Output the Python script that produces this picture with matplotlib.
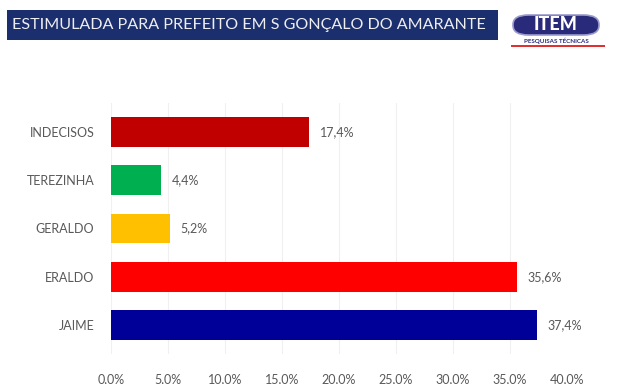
import matplotlib
matplotlib.use('Agg')
import matplotlib.pyplot as plt
from matplotlib.patches import FancyBboxPatch, Rectangle

candidates = ['JAIME', 'ERALDO', 'GERALDO', 'TEREZINHA', 'INDECISOS']
values = [37.4, 35.6, 5.2, 4.4, 17.4]
colors = ['#000099', '#ff0000', '#ffc000', '#00b050', '#c00000']
xticks = [0, 5, 10, 15, 20, 25, 30, 35, 40]

plt.rcParams['font.family'] = ['Lato', 'DejaVu Sans']

fig = plt.figure(figsize=(6.17, 3.84), dpi=100)
ax = fig.add_axes([0.18, 0.078, 0.739, 0.654])

ypos = list(range(len(candidates)))
ax.barh(ypos, values, height=0.62, color=colors, zorder=3)
for y, v in zip(ypos, values):
    ax.text(v + 0.9, y, f'{v:.1f}%'.replace('.', ','), va='center', ha='left',
            fontsize=9, color='#595959')

ax.set_xlim(0, 40)
ax.set_ylim(-0.6, 4.6)
ax.set_yticks(ypos)
ax.set_yticklabels(candidates)
ax.set_xticks(xticks)
ax.set_xticklabels([f'{t:.1f}%'.replace('.', ',') for t in xticks])
ax.tick_params(axis='both', length=0, labelsize=9, colors='#595959')
ax.tick_params(axis='x', pad=14)
ax.tick_params(axis='y', pad=12)
ax.grid(axis='x', color='#f0f0f0', linewidth=0.8, zorder=0)
for s in ax.spines.values():
    s.set_visible(False)

# title banner
fig.patches.append(Rectangle((7 / 617, 1 - 40 / 384), 491 / 617, 30 / 384,
                             transform=fig.transFigure, facecolor='#1b2f6e',
                             edgecolor='none'))
fig.text(12 / 617, 1 - 25 / 384, 'ESTIMULADA PARA PREFEITO EM S GONÇALO DO AMARANTE',
         color='#eeeeee', fontsize=11.6, va='center', ha='left')

# logo
fig.patches.append(FancyBboxPatch((513 / 617, 1 - 35 / 384), 86 / 617, 20 / 384,
                                  boxstyle='round,pad=0,rounding_size=0.025',
                                  transform=fig.transFigure, facecolor='#2a2a7a',
                                  edgecolor='#9999cc', linewidth=1.2))
fig.text(556 / 617, 1 - 25 / 384, 'ITEM', color='white', fontsize=13,
         fontweight='black', ha='center', va='center')
fig.text(556 / 617, 1 - 41 / 384, 'PESQUISAS TÉCNICAS', color='#2a2a7a', fontsize=4.5,
         fontweight='bold', ha='center', va='center')
fig.patches.append(Rectangle((511 / 617, 1 - 47 / 384), 94 / 617, 2.5 / 384,
                             transform=fig.transFigure, facecolor='#e03030',
                             edgecolor='none'))

fig.savefig('out.png', dpi=100)
